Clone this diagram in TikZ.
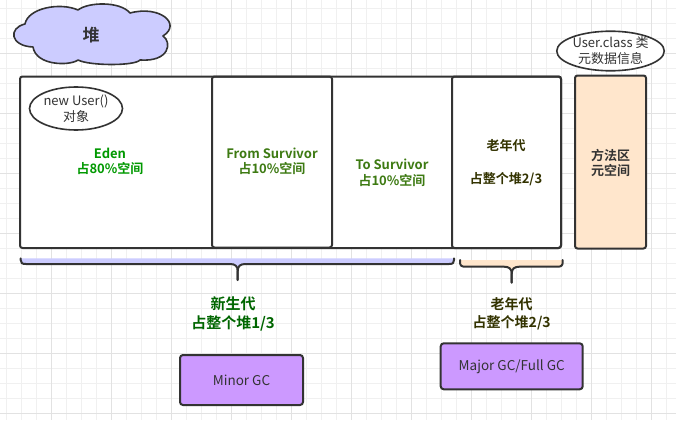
\documentclass[tikz,border=0pt]{standalone}
\usepackage{fontspec}
\setmainfont{Noto Sans CJK SC}[BoldFont={Noto Sans CJK SC Bold}]
\usetikzlibrary{shapes.geometric}
\definecolor{edge}{HTML}{333333}
\definecolor{gridminor}{HTML}{F0F0F0}
\definecolor{gridmajor}{HTML}{E2E2E2}
\definecolor{cloudfill}{HTML}{CCCCFF}
\definecolor{peach}{HTML}{FFE6CC}
\definecolor{purple}{HTML}{CC99FF}
\definecolor{edengreen}{HTML}{009900}
\definecolor{survgreen}{HTML}{3D7A12}
\definecolor{darkgreen}{HTML}{006600}
\definecolor{olive}{HTML}{333300}
\begin{document}
\begin{tikzpicture}[x=1pt,y=-1pt,
  box/.style={draw=edge,line width=2pt,rounded corners=2.5pt},
  lbl/.style={inner sep=0pt,align=center,font=\fontsize{13}{15.5}\selectfont},
  blbl/.style={lbl,font=\fontsize{13}{15.5}\selectfont\bfseries},
  oval/.style={draw=edge,line width=1.6pt,fill=white,ellipse,inner sep=0pt,align=center,text=edge,font=\fontsize{13}{16}\selectfont},
  gcbox/.style={draw=edge,line width=2pt,fill=purple,rounded corners=3pt,text=edge,font=\fontsize{13.5}{15.5}\selectfont},
  brace/.style={draw=edge,line width=2pt,line cap=round,line join=round}]
\useasboundingbox (0,0) rectangle (676,420);
\fill[white] (0,0) rectangle (676,420);
% grid
\foreach \i in {0,...,45} {\draw[gridminor,line width=1pt] ({6.7+15*\i},0) -- ({6.7+15*\i},420);}
\foreach \i in {0,...,28} {\draw[gridminor,line width=1pt] (0,{8.3+15*\i}) -- (676,{8.3+15*\i});}
\foreach \i in {-1,...,11} {\draw[gridmajor,line width=1pt] ({51.7+60*\i},0) -- ({51.7+60*\i},420);}
\foreach \i in {-1,...,6} {\draw[gridmajor,line width=1pt] (0,{53.3+60*\i}) -- (676,{53.3+60*\i});}

% cloud
\draw[fill=cloudfill,draw=edge,line width=1.6pt,line join=round]
  (33,47) .. controls (10,46) and (8,28) .. (25,24)
  .. controls (28,8) and (60,2) .. (78,10)
  .. controls (88,2) and (120,1) .. (130,13)
  .. controls (160,5) and (182,24) .. (163,36)
  .. controls (172,42) and (170,62) .. (140,60)
  .. controls (135,66) and (90,66) .. (78,60)
  .. controls (70,66) and (36,66) .. (33,47) -- cycle;
\node[blbl,text=edge,font=\fontsize{17}{19}\selectfont\bfseries] (heap) at (91,35) {堆};

% heap boxes
\draw[box,fill=white] (20,76.5) rectangle (561,248);
\draw[box] (212,76.5) rectangle (332,247.5);
\draw[box] (452,76.5) rectangle (561,248);

% method area
\draw[box,fill=peach] (575,75.5) rectangle (646,248.5);
\node[blbl,text=edge] (meta) at (610.7,163) {方法区\\元空间};

% ovals
\node[oval,minimum width=93pt,minimum height=43pt] (obj) at (76,108.5) {new User()\\对象};
\node[oval,minimum width=99pt,minimum height=38pt] (cls) at (610.5,51) {User.class 类\\元数据信息};

% texts in boxes
\node[blbl,text=edengreen] (edent) at (110,161.5) {Eden\\占80\%空间};
\node[blbl,text=survgreen] (fromt) at (272,161.5) {From Survivor\\占10\%空间};
\node[blbl,text=survgreen] (tot) at (392,173) {To Survivor\\占10\%空间};
\node[blbl,text=olive,font=\fontsize{13}{16.5}\selectfont\bfseries] (oldt) at (506,162.5) {老年代\\[16.5pt]占整个堆2/3};

% braces
\fill[cloudfill] (20.7,258.3) -- (20.7,260) .. controls (20.7,263) and (22,264) .. (26,264)
  -- (230,264) .. controls (235,264) and (237.7,266) .. (237.7,271)
  .. controls (237.7,266) and (240.4,264) .. (245.4,264)
  -- (449,264) .. controls (453,264) and (454,263) .. (454,260) -- (454,258.3) -- cycle;
\coordinate (b1tip) at (237.7,280);
\draw[brace] (20.7,258.3) -- (20.7,260) .. controls (20.7,263) and (22,264) .. (26,264)
  -- (230,264) .. controls (235,264) and (237.7,266) .. (237.7,271) -- (b1tip);
\draw[brace] (b1tip) -- (237.7,271) .. controls (237.7,266) and (240.4,264) .. (245.4,264)
  -- (449,264) .. controls (453,264) and (454,263) .. (454,260) -- (454,258.3);

\fill[peach] (460,260) -- (460,262) .. controls (460,265.5) and (461.5,266.7) .. (465,266.7)
  -- (504,266.7) .. controls (509,266.7) and (511.7,268.7) .. (511.7,273.7)
  .. controls (511.7,268.7) and (514.4,266.7) .. (519.4,266.7)
  -- (557.7,266.7) .. controls (561.2,266.7) and (562.7,265.5) .. (562.7,262) -- (562.7,260) -- cycle;
\coordinate (b2tip) at (511.7,282.7);
\draw[brace] (460,260) -- (460,262) .. controls (460,265.5) and (461.5,266.7) .. (465,266.7)
  -- (504,266.7) .. controls (509,266.7) and (511.7,268.7) .. (511.7,273.7) -- (b2tip);
\draw[brace] (b2tip) -- (511.7,273.7) .. controls (511.7,268.7) and (514.4,266.7) .. (519.4,266.7)
  -- (557.7,266.7) .. controls (561.2,266.7) and (562.7,265.5) .. (562.7,262) -- (562.7,260);

% generation labels
\node[blbl,text=darkgreen,font=\fontsize{15}{18.5}\selectfont\bfseries] (young) at (233,314) {新生代\\占整个堆1/3};
\node[blbl,text=olive,font=\fontsize{14}{18.3}\selectfont\bfseries] (tenured) at (511.7,314) {老年代\\占整个堆2/3};

% GC boxes
\node[gcbox,minimum width=123pt,minimum height=50pt] (minor) at (241.5,380) {Minor GC};
\node[gcbox,minimum width=142pt,minimum height=46pt] (major) at (511.7,366.3) {Major GC/Full GC};
\end{tikzpicture}
\end{document}
